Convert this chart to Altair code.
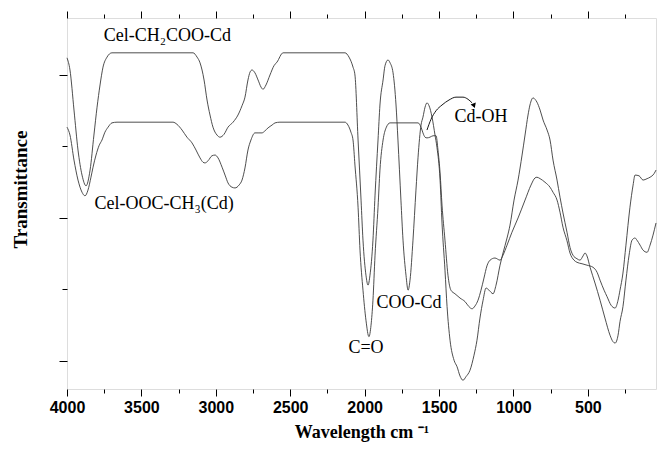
import altair as alt
import pandas as pd

# Curve "Cel-CH2COO-Cd": wavenumber (cm-1) and transmittance (a.u.)
wn_a = [4000, 3980, 3953, 3926, 3899, 3872, 3845, 3819, 3798, 3778, 3758, 3731, 3698,
        3153, 3126, 3106, 3079, 3059, 3039, 3019, 2992, 2972, 2945, 2918, 2884, 2851,
        2824, 2804, 2784, 2770, 2757, 2737, 2716, 2696, 2683, 2663, 2636, 2609, 2589,
        2548, 2132, 2105, 2078, 2065, 2044, 2024, 2011, 1991, 1977, 1964, 1944, 1930,
        1910, 1897, 1876, 1863, 1843, 1829, 1809, 1789, 1776, 1756, 1742, 1722, 1708,
        1695, 1675, 1655, 1641, 1621, 1608, 1594, 1581, 1567, 1547, 1527, 1514, 1493,
        1480, 1460, 1446, 1426, 1399, 1379, 1359, 1339, 1319, 1292, 1265, 1245, 1225,
        1204, 1184, 1164, 1137, 1117, 1090, 1070, 1043, 1023, 996, 969, 942, 922, 902,
        889, 868, 855, 842, 821, 801, 774, 754, 734, 707, 687, 667, 640, 620, 600, 573,
        553, 532, 519, 506, 485, 452, 418, 385, 351, 331, 317, 297, 284, 264, 244, 223,
        203, 183, 170, 149, 129, 102, 82, 62, 42]
t_a = [42.4, 40.7, 35.1, 29.5, 26.0, 24.5, 26.7, 31.6, 35.5, 38.6, 41.1, 42.5, 43.1,
       43.1, 42.5, 41.7, 39.3, 36.5, 34.4, 32.7, 31.6, 31.3, 31.7, 32.7, 33.4, 34.4,
       35.7, 36.9, 39.3, 40.4, 40.7, 40.3, 39.3, 38.3, 38.0, 38.6, 40.0, 41.3, 41.8,
       43.1, 43.1, 42.5, 41.1, 40.0, 30.9, 22.5, 16.9, 12.0, 10.6, 12.0, 16.9, 23.2,
       30.9, 35.8, 39.3, 41.3, 42.1, 41.7, 40.3, 35.8, 30.9, 22.5, 16.9, 12.0, 9.9,
       11.3, 16.9, 23.9, 28.5, 33.0, 34.1, 35.5, 36.1, 35.7, 34.1, 31.6, 29.9, 25.3,
       19.3, 12.7, 7.6, 2.9, 0.1, -0.8, -2.1, -2.7, -2.2, -1.3, 0.8, 2.9, 6.0,
       8.5, 10.2, 9.9, 9.4, 10.6, 13.4, 15.1, 17.2, 19.0, 22.5, 25.3, 28.8, 31.6, 34.4,
       35.8, 36.8, 36.6, 36.2, 35.1, 33.7, 32.3, 30.9, 28.1, 25.3, 22.9, 20.7, 18.0, 15.9, 14.8, 14.3,
       14.1, 14.7, 15.1, 14.7, 13.1, 10.9, 8.5, 6.0, 3.6, 2.7, 2.5, 3.6, 5.5, 7.6, 11.3, 14.8,
       16.9, 17.2, 16.9, 16.2, 15.5, 15.2, 16.2, 17.6, 19.3]

# Curve "Cel-OOC-CH3(Cd)"
wn_b = [4000, 3980, 3953, 3926, 3899, 3879, 3859, 3839, 3825, 3805, 3785, 3765, 3745,
        3724, 3698, 3664, 3288, 3261, 3227, 3194, 3160, 3133, 3106, 3086, 3073, 3052,
        3026, 3005, 2985, 2958, 2938, 2918, 2891, 2871, 2844, 2824, 2804, 2784, 2764,
        2737, 2716, 2690, 2669, 2649, 2622, 2602, 2569, 2132, 2112, 2092, 2078, 2065,
        2044, 2031, 2011, 1991, 1971, 1957, 1944, 1930, 1910, 1897, 1876, 1856, 1829,
        1641, 1621, 1608, 1594, 1581, 1561, 1540, 1520, 1507, 1493, 1480, 1460, 1440,
        1420, 1393, 1359, 1325, 1299, 1278, 1258, 1238, 1218, 1198, 1178, 1157, 1124,
        1090, 1070, 1043, 1010, 969, 922, 882, 855, 842, 821, 788, 754, 734, 707, 687,
        667, 640, 620, 593, 573, 539, 506, 465, 438, 418, 391, 371, 344, 317, 297, 284,
        264, 244, 217, 196, 183, 156, 129, 102, 82, 55, 42]
t_b = [32.7, 31.6, 28.1, 25.3, 23.6, 23.1, 23.9, 25.7, 27.1, 28.8, 30.1, 30.9, 32.0,
       32.7, 33.3, 33.4, 33.4, 33.1, 32.3, 31.3, 30.5, 29.5, 28.4, 27.8, 27.7, 28.0,
       28.7, 28.8, 28.4, 27.1, 26.0, 24.9, 24.3, 24.2, 24.6, 25.3, 27.0, 29.5, 30.9,
       31.9, 31.9, 31.9, 32.2, 32.6, 33.0, 33.3, 33.4, 33.4, 33.0, 32.0, 30.9, 27.4,
       21.5, 15.5, 9.9, 5.7, 3.4, 5.0, 8.5, 14.8, 21.5, 26.7, 30.9, 32.6, 33.3,
       33.3, 32.7, 31.9, 31.3, 31.2, 31.3, 31.5, 31.5, 29.5, 26.3, 21.8, 16.9, 12.0,
       9.9, 9.4, 8.8, 8.3, 7.6, 7.3, 7.7, 8.5, 9.9, 11.6, 13.3, 14.1, 14.4,
       14.1, 14.8, 16.2, 18.0, 20.0, 22.5, 24.6, 25.6, 25.7, 25.5, 25.0, 24.3, 23.6, 22.5, 20.8,
       18.7, 16.8, 15.1, 14.1, 13.8, 13.6, 13.4, 13.1, 12.4, 11.3, 9.9, 9.0, 7.8, 7.4, 8.5, 9.9,
       12.3, 16.2, 21.5, 24.6, 26.0, 25.9, 25.3, 25.5, 25.7, 26.2, 26.7]

# Annotations
label_text = ["Cel-CH₂COO-Cd", "Cel-OOC-CH₃(Cd)", "C=O", "COO-Cd", "Cd-OH"]
label_wn = [3325, 3348, 1991, 1702, 1218]
label_t = [45.5, 22.0, 1.8, 8.1, 34.1]

arrow_wn = [1581, 1554, 1520, 1480, 1433, 1386, 1339, 1305, 1278]
arrow_t = [32.3, 33.8, 35.0, 35.8, 36.5, 36.9, 36.9, 36.6, 36.1]
head_wn = [1265]
head_t = [35.7]

x_major = [4000, 3500, 3000, 2500, 2000, 1500, 1000, 500]
x_minor = [3750, 3250, 2750, 2250, 1750, 1250, 750, 250]
y_major = [0, 20, 40]
y_minor = [10, 30]

df = pd.concat([
    pd.DataFrame({"wn": wn_a, "t": t_a, "series": "Cel-CH2COO-Cd"}),
    pd.DataFrame({"wn": wn_b, "t": t_b, "series": "Cel-OOC-CH3(Cd)"}),
])
df_lab = pd.DataFrame({"wn": label_wn, "t": label_t, "text": label_text})
df_arrow = pd.DataFrame({"wn": arrow_wn, "t": arrow_t})
df_head = pd.DataFrame({"wn": head_wn, "t": head_t})

xs = alt.Scale(domain=[4000, 42], nice=False, zero=False)
ys = alt.Scale(domain=[-3.92, 47.97], nice=False, zero=False)

common = dict(domain=False, grid=False, tickColor="black", tickWidth=1)

ax_x_bottom = alt.Axis(orient="bottom", values=x_major, tickSize=7, format="d",
                       labelFont="Liberation Sans", labelFontWeight="bold", labelFontSize=16,
                       labelColor="black", labelPadding=3, labelFlush=False,
                       title="Wavelength cm ⁻¹", titleFont="Liberation Serif",
                       titleFontWeight="bold", titleFontSize=18, titleColor="black",
                       titleY=48, titleBaseline="alphabetic", **common)
ax_x_bottom_minor = alt.Axis(orient="bottom", values=x_minor, tickSize=4, labels=False,
                             title=None, **common)
ax_x_top = alt.Axis(orient="top", values=x_major, tickSize=7, labels=False, title=None, **common)
ax_x_top_minor = alt.Axis(orient="top", values=x_minor, tickSize=4, labels=False, title=None, **common)

ax_y = alt.Axis(orient="left", values=y_major, tickSize=8, labels=False,
                title="Transmittance", titleFont="Liberation Serif", titleFontWeight="bold",
                titleFontSize=19, titleColor="black", titleAngle=270, titleX=-47, titleY=171,
                titleBaseline="middle", titleAlign="center", **common)
ax_y_minor = alt.Axis(orient="left", values=y_minor, tickSize=5, labels=False, title=None, **common)

lines = alt.Chart(df).mark_line(color="#3a3a3a", strokeWidth=0.9, interpolate="monotone").encode(
    x=alt.X("wn:Q", scale=xs, axis=ax_x_bottom),
    y=alt.Y("t:Q", scale=ys, axis=ax_y),
    detail="series:N",
)

def ghost(xaxis, yaxis):
    return alt.Chart(df).mark_line(strokeOpacity=0).encode(
        x=alt.X("wn:Q", scale=xs, axis=xaxis),
        y=alt.Y("t:Q", scale=ys, axis=yaxis),
        detail="series:N",
    )

g1 = ghost(ax_x_bottom_minor, ax_y_minor)
g2 = ghost(ax_x_top, None)
g3 = ghost(ax_x_top_minor, None)

texts = alt.Chart(df_lab).mark_text(font="Liberation Serif", fontSize=18, color="black",
                                    align="center", baseline="middle").encode(
    x=alt.X("wn:Q", scale=xs, axis=None),
    y=alt.Y("t:Q", scale=ys, axis=None),
    text="text:N",
)

arrow = alt.Chart(df_arrow).mark_line(color="black", strokeWidth=0.9, interpolate="monotone").encode(
    x=alt.X("wn:Q", scale=xs, axis=None),
    y=alt.Y("t:Q", scale=ys, axis=None),
)
head = alt.Chart(df_head).mark_point(shape="triangle-down", filled=True, color="black",
                                     size=30, angle=340, opacity=1).encode(
    x=alt.X("wn:Q", scale=xs, axis=None),
    y=alt.Y("t:Q", scale=ys, axis=None),
)

chart = alt.layer(lines, g1, g2, g3, texts, arrow, head).resolve_axis(
    x="independent", y="independent"
).properties(
    width=589, height=371,
    autosize=alt.AutoSizeParams(type="none"),
    padding={"left": 67, "top": 18, "right": 1, "bottom": 62},
).configure_view(stroke="black", strokeWidth=1).configure(background="white")

chart.save("out.html", embed_options={"renderer": "svg", "actions": False})
